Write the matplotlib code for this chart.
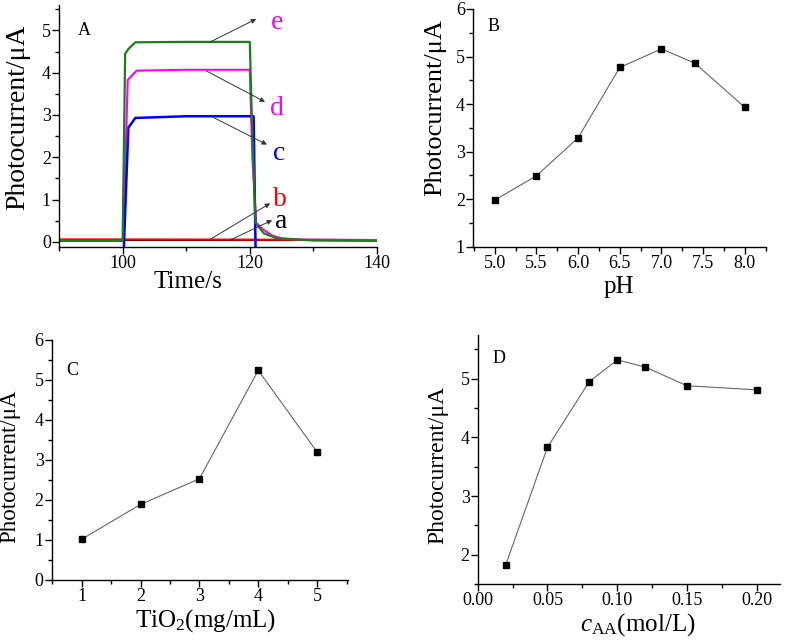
import matplotlib
matplotlib.use("Agg")
import matplotlib.pyplot as plt
from matplotlib.ticker import MultipleLocator

plt.rcParams['font.family'] = ['Liberation Serif', 'DejaVu Serif']
plt.rcParams['mathtext.fontset'] = 'custom'
plt.rcParams['mathtext.rm'] = 'Liberation Serif'
plt.rcParams['mathtext.it'] = 'Liberation Serif:italic'

# ---- Panel A data (time-resolved photocurrent) ----
t_e = [90, 100, 100.4, 100.9, 102, 110, 120, 120.4, 120.9, 122.2, 124.3, 128, 130, 140]
i_e = [0.02, 0.02, 4.45, 4.56, 4.72, 4.73, 4.73, 2.5, 0.45, 0.2, 0.08, 0.05, 0.03, 0.02]
t_d = [100.1, 100.8, 102.2, 110, 120, 120.4, 121, 122, 123.5, 125, 128, 140]
i_d = [0.05, 3.83, 4.05, 4.07, 4.07, 2.0, 0.45, 0.3, 0.15, 0.08, 0.05, 0.04]
t_c = [100.2, 100.9, 102, 110, 120.6, 120.9]
i_c = [-0.1, 2.7, 2.93, 2.97, 2.97, -0.1]
t_b = [90, 100, 120, 130, 140]
i_b = [0.056, 0.055, 0.05, 0.045, 0.04]
t_a = [90, 100, 120, 130, 140]
i_a = [0.03, 0.03, 0.03, 0.03, 0.03]

# ---- Panel B ----
ph = [5.0, 5.5, 6.0, 6.5, 7.0, 7.4, 8.0]
ph_i = [1.98, 2.49, 3.29, 4.77, 5.16, 4.86, 3.93]

# ---- Panel C ----
tio2 = [1, 2, 3, 4, 5]
tio2_i = [1.02, 1.89, 2.53, 5.24, 3.20]

# ---- Panel D ----
caa = [0.02, 0.05, 0.08, 0.10, 0.12, 0.15, 0.20]
caa_i = [1.82, 3.83, 4.95, 5.32, 5.20, 4.88, 4.81]

fig = plt.figure(figsize=(7.87, 6.40), dpi=100)

axA = fig.add_axes([0.075, 0.614, 0.404, 0.378])
axB = fig.add_axes([0.601, 0.6145, 0.372, 0.3715])
axC = fig.add_axes([0.0657, 0.09375, 0.3761, 0.375])
axD = fig.add_axes([0.607, 0.0875, 0.384, 0.3895])

def style(ax):
    for s in ['top', 'right']:
        ax.spines[s].set_visible(False)
    for s in ['left', 'bottom']:
        ax.spines[s].set_linewidth(1.0)
    ax.tick_params(which='major', direction='out', length=5, width=1.0, labelsize=13, pad=0.8)
    ax.tick_params(which='minor', direction='out', length=3, width=1.0)

ylab = 'Photocurrent/\u03bcA'

# Panel A
axA.plot(t_a, i_a, color='black', lw=1.5)
axA.plot(t_b, i_b, color='#ff0000', lw=1.5)
axA.plot(t_d, i_d, color='#ff00ff', lw=1.5)
axA.plot(t_c, i_c, color='#0000ff', lw=1.8)
axA.plot(t_e, i_e, color='#1a7f1a', lw=1.6)
axA.set_xlim(90, 140)
axA.set_ylim(-0.125, 5.6)
axA.xaxis.set_major_locator(MultipleLocator(20))
axA.xaxis.set_minor_locator(MultipleLocator(10))
axA.yaxis.set_major_locator(MultipleLocator(1))
axA.yaxis.set_minor_locator(MultipleLocator(0.5))
style(axA)
axA.set_xlabel('Time/s', fontsize=18)
axA.xaxis.set_label_coords(0.407, -0.10)
axA.set_ylabel(ylab, fontsize=20)
axA.yaxis.set_label_coords(-0.091, 0.537)
axA.text(0.06, 0.93, 'A', transform=axA.transAxes, fontsize=13, va='top')
arrow = dict(arrowstyle='-|>', color='#333333', lw=0.7, mutation_scale=7, shrinkA=0, shrinkB=0)
ann = [('e', 113.8, 4.73, 121.0, 5.27, 123.3, 5.18, '#ff00ff'),
       ('d', 113.2, 4.04, 122.4, 3.31, 123.2, 3.15, '#ff00ff'),
       ('c', 114.3, 2.94, 122.7, 2.30, 123.6, 2.08, '#0000ff'),
       ('b', 113.8, 0.06, 123.2, 0.91, 123.6, 1.0, '#ff0000'),
       ('a', 116.9, 0.04, 123.5, 0.51, 124.0, 0.48, 'black')]
for lab, x0, y0, x1, y1, tx, ty, col in ann:
    axA.annotate('', xy=(x1, y1), xytext=(x0, y0), arrowprops=arrow)
    axA.text(tx, ty, lab, color=col, fontsize=20, ha='left', va='center')

# Panel B
axB.plot(ph, ph_i, color='#666666', lw=0.8, marker='s', ms=5, mfc='black', mec='black')
axB.set_xlim(4.74, 8.25)
axB.set_ylim(1, 6)
axB.xaxis.set_major_locator(MultipleLocator(0.5))
axB.xaxis.set_minor_locator(MultipleLocator(0.25))
axB.yaxis.set_major_locator(MultipleLocator(1))
axB.yaxis.set_minor_locator(MultipleLocator(0.5))
axB.xaxis.set_major_formatter(plt.FormatStrFormatter('%.1f'))
style(axB)
axB.set_xlabel('pH', fontsize=18)
axB.xaxis.set_label_coords(0.5, -0.122)
axB.set_ylabel(ylab, fontsize=19)
axB.yaxis.set_label_coords(-0.090, 0.584)
axB.text(0.05, 0.96, 'B', transform=axB.transAxes, fontsize=13, va='top')

# Panel C
axC.plot(tio2, tio2_i, color='#666666', lw=0.8, marker='s', ms=5, mfc='black', mec='black')
axC.set_xlim(0.49, 5.52)
axC.set_ylim(0, 6)
axC.xaxis.set_major_locator(MultipleLocator(1))
axC.xaxis.set_minor_locator(MultipleLocator(0.5))
axC.yaxis.set_major_locator(MultipleLocator(1))
axC.yaxis.set_minor_locator(MultipleLocator(0.5))
style(axC)
axC.set_xlabel('TiO$_2$(mg/mL)', fontsize=18)
axC.xaxis.set_label_coords(0.521, -0.115)
axC.set_ylabel(ylab, fontsize=16.5)
axC.yaxis.set_label_coords(-0.107, 0.473)
axC.text(0.05, 0.91, 'C', transform=axC.transAxes, fontsize=13, va='top')

# Panel D
axD.plot(caa, caa_i, color='#666666', lw=0.8, marker='s', ms=5, mfc='black', mec='black')
axD.set_xlim(0.0, 0.2167)
axD.set_ylim(1.5, 5.75)
axD.xaxis.set_major_locator(MultipleLocator(0.05))
axD.xaxis.set_minor_locator(MultipleLocator(0.025))
axD.yaxis.set_major_locator(MultipleLocator(1))
axD.yaxis.set_minor_locator(MultipleLocator(0.5))
axD.xaxis.set_major_formatter(plt.FormatStrFormatter('%.2f'))
style(axD)
axD.set_xlabel(r'$c_{\mathrm{AA}}$(mol/L)', fontsize=18)
axD.xaxis.set_label_coords(0.529, -0.110)
axD.set_ylabel(ylab, fontsize=17)
axD.yaxis.set_label_coords(-0.098, 0.478)
axD.text(0.05, 0.94, 'D', transform=axD.transAxes, fontsize=13, va='top')

fig.savefig('out.png', dpi=100)
